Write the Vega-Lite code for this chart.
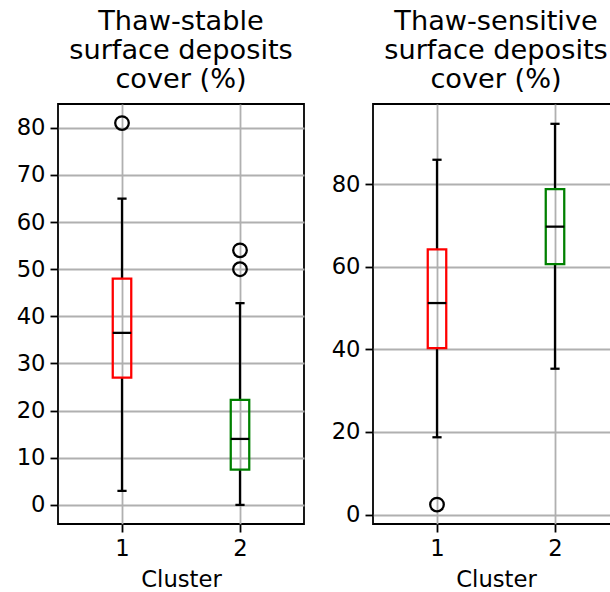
{
  "$schema": "https://vega.github.io/schema/vega-lite/v6.json",
  "padding": {"top": 7, "left": 0, "right": 0, "bottom": 0},
  "background": "white",
  "spacing": 17,
  "config": {
    "font": "DejaVu Sans",
    "view": {"stroke": "black", "strokeWidth": 1.8},
    "title": {"fontSize": 27.2, "font": "DejaVu Sans", "fontWeight": "normal", "lineHeight": 29, "offset": 9.6, "color": "black"},
    "axis": {
      "labelFont": "DejaVu Sans", "labelFontSize": 22.7, "labelColor": "black",
      "titleFont": "DejaVu Sans", "titleFontSize": 22.7, "titleFontWeight": "normal", "titleColor": "black",
      "tickSize": 8, "tickWidth": 1.8, "tickColor": "black",
      "domain": false, "grid": true, "gridColor": "#b0b0b0", "gridWidth": 1.8
    },
    "axisX": {"labelPadding": 5, "titlePadding": 9},
    "axisY": {"labelPadding": 5}
  },
  "datasets": {
    "boxes": [
      {"panel": "stable", "cluster": 1, "lower": 3, "q1": 27, "median": 36.5, "q3": 48, "upper": 65, "color": "red"},
      {"panel": "stable", "cluster": 2, "lower": 0, "q1": 7.5, "median": 14, "q3": 22.3, "upper": 42.8, "color": "green"},
      {"panel": "sensitive", "cluster": 1, "lower": 18.7, "q1": 40.3, "median": 51.2, "q3": 64.2, "upper": 85.9, "color": "red"},
      {"panel": "sensitive", "cluster": 2, "lower": 35.3, "q1": 60.6, "median": 69.7, "q3": 78.8, "upper": 94.6, "color": "green"}
    ],
    "outliers": [
      {"panel": "stable", "cluster": 1, "value": 81},
      {"panel": "stable", "cluster": 2, "value": 54},
      {"panel": "stable", "cluster": 2, "value": 50},
      {"panel": "sensitive", "cluster": 1, "value": 2.4}
    ]
  },
  "hconcat": [
    {
      "title": {"text": ["Thaw-stable", "surface deposits", "cover (%)"]},
      "width": 246, "height": 420,
      "layer": [
        {
          "data": {"name": "boxes"},
          "transform": [{"filter": "datum.panel === 'stable'"}],
          "layer": [
            {"mark": {"type": "rule", "color": "black", "strokeWidth": 2.27},
             "encoding": {"y": {"field": "lower", "type": "quantitative"}, "y2": {"field": "q1"}}},
            {"mark": {"type": "rule", "color": "black", "strokeWidth": 2.27},
             "encoding": {"y": {"field": "q3", "type": "quantitative"}, "y2": {"field": "upper"}}},
            {"mark": {"type": "tick", "orient": "horizontal", "size": 9.2, "thickness": 2.27, "color": "black", "opacity": 1},
             "encoding": {"y": {"field": "lower", "type": "quantitative"}}},
            {"mark": {"type": "tick", "orient": "horizontal", "size": 9.2, "thickness": 2.27, "color": "black", "opacity": 1},
             "encoding": {"y": {"field": "upper", "type": "quantitative"}}},
            {"mark": {"type": "bar", "size": 18.5, "fill": "transparent", "strokeWidth": 2.27, "orient": "vertical"},
             "encoding": {"y": {"field": "q1", "type": "quantitative"}, "y2": {"field": "q3"},
               "stroke": {"field": "color", "type": "nominal", "scale": null}}},
            {"mark": {"type": "tick", "orient": "horizontal", "size": 18.5, "thickness": 2.27, "color": "black", "opacity": 1},
             "encoding": {"y": {"field": "median", "type": "quantitative"}}}
          ],
          "encoding": {
            "x": {"field": "cluster", "type": "quantitative", "scale": {"domain": [0.5, 2.5], "nice": false, "zero": false},
                  "axis": {"values": [1, 2], "format": "d", "title": "Cluster"}}
          }
        },
        {
          "data": {"name": "outliers"},
          "transform": [{"filter": "datum.panel === 'stable'"}],
          "mark": {"type": "point", "shape": "circle", "filled": false, "stroke": "black", "strokeWidth": 2.27, "size": 185, "opacity": 1},
          "encoding": {
            "x": {"field": "cluster", "type": "quantitative"},
            "y": {"field": "value", "type": "quantitative"}
          }
        }
      ],
      "encoding": {
        "y": {"type": "quantitative", "scale": {"domain": [-4.05, 85.05], "nice": false, "zero": false},
              "axis": {"values": [0, 10, 20, 30, 40, 50, 60, 70, 80], "title": null, "minExtent": 57, "maxExtent": 57}}
      }
    },
    {
      "title": {"text": ["Thaw-sensitive", "surface deposits", "cover (%)"]},
      "width": 246, "height": 420,
      "layer": [
        {
          "data": {"name": "boxes"},
          "transform": [{"filter": "datum.panel === 'sensitive'"}],
          "layer": [
            {"mark": {"type": "rule", "color": "black", "strokeWidth": 2.27},
             "encoding": {"y": {"field": "lower", "type": "quantitative"}, "y2": {"field": "q1"}}},
            {"mark": {"type": "rule", "color": "black", "strokeWidth": 2.27},
             "encoding": {"y": {"field": "q3", "type": "quantitative"}, "y2": {"field": "upper"}}},
            {"mark": {"type": "tick", "orient": "horizontal", "size": 9.2, "thickness": 2.27, "color": "black", "opacity": 1},
             "encoding": {"y": {"field": "lower", "type": "quantitative"}}},
            {"mark": {"type": "tick", "orient": "horizontal", "size": 9.2, "thickness": 2.27, "color": "black", "opacity": 1},
             "encoding": {"y": {"field": "upper", "type": "quantitative"}}},
            {"mark": {"type": "bar", "size": 18.5, "fill": "transparent", "strokeWidth": 2.27, "orient": "vertical"},
             "encoding": {"y": {"field": "q1", "type": "quantitative"}, "y2": {"field": "q3"},
               "stroke": {"field": "color", "type": "nominal", "scale": null}}},
            {"mark": {"type": "tick", "orient": "horizontal", "size": 18.5, "thickness": 2.27, "color": "black", "opacity": 1},
             "encoding": {"y": {"field": "median", "type": "quantitative"}}}
          ],
          "encoding": {
            "x": {"field": "cluster", "type": "quantitative", "scale": {"domain": [0.5, 2.5], "nice": false, "zero": false},
                  "axis": {"values": [1, 2], "format": "d", "title": "Cluster"}}
          }
        },
        {
          "data": {"name": "outliers"},
          "transform": [{"filter": "datum.panel === 'sensitive'"}],
          "mark": {"type": "point", "shape": "circle", "filled": false, "stroke": "black", "strokeWidth": 2.27, "size": 185, "opacity": 1},
          "encoding": {
            "x": {"field": "cluster", "type": "quantitative"},
            "y": {"field": "value", "type": "quantitative"}
          }
        }
      ],
      "encoding": {
        "y": {"type": "quantitative", "scale": {"domain": [-2.3, 99.4], "nice": false, "zero": false},
              "axis": {"values": [0, 20, 40, 60, 80], "title": null, "minExtent": 50, "maxExtent": 50}}
      }
    }
  ]
}
